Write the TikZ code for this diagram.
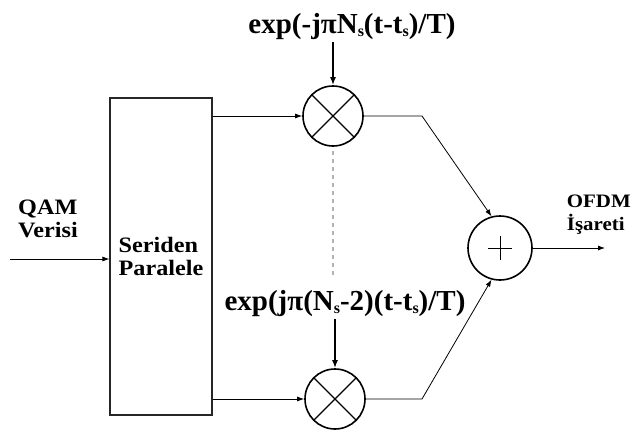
\documentclass[tikz,border=0pt]{standalone}
\usepackage{fontspec}
\setmainfont{Liberation Serif}
\newfontfamily\widefont{Liberation Serif}[FakeStretch=1.1]
\usetikzlibrary{arrows.meta,positioning}

\tikzset{
  lbl/.style={font=\widefont\fontsize{22}{23}\selectfont\bfseries, align=left, inner sep=0pt},
  explbl/.style={font=\fontsize{29}{30}\selectfont\bfseries, inner sep=0pt},
  mixer/.style={circle, draw, line width=1.6pt, minimum size=60pt, inner sep=0pt,
    path picture={\draw[line width=1.2pt]
      (path picture bounding box.north west) -- (path picture bounding box.south east)
      (path picture bounding box.north east) -- (path picture bounding box.south west);}},
  summer/.style={circle, draw, line width=1.6pt, minimum size=64pt, inner sep=0pt},
  sig/.style={-{Latex[length=7pt,width=5pt]}, line width=0.8pt},
  feed/.style={-{Latex[length=8pt,width=6pt]}, line width=2pt},
  dotline/.style={gray!60, line width=2pt, dash pattern=on 4pt off 4pt},
}

\newcommand{\lowsub}[1]{\raisebox{-0.3ex}{\fontsize{16}{16}\selectfont #1}}

\begin{document}
\begin{tikzpicture}[x=1pt,y=-1pt]
  \useasboundingbox (0,0) rectangle (635,431);
  % blocks
  \node[draw, black!85, line width=1.1pt, minimum width=102pt, minimum height=317pt,
    lbl, text=black] (spp) at (161,256.5) {Seriden\\Paralele};
  \node[mixer] (mix1) at (333,116) {};
  \node[mixer] (mix2) at (335,399) {};
  \node[summer] (sum) at (500,248) {};
  \draw[line width=0.9pt] ([xshift=-12pt]sum.center) -- ([xshift=12pt]sum.center)
    ([yshift=-12pt]sum.center) -- ([yshift=12pt]sum.center);
  % labels
  \node[explbl, anchor=base] (lab1) at (352,33) {exp(-jπN\lowsub{s}(t-t\lowsub{s})/T)};
  \node[explbl, anchor=base] (lab2) at (345,310) {exp(jπ(N\lowsub{s}-2)(t-t\lowsub{s})/T)};
  \node[lbl, anchor=base west] (qam) at (18,237) {QAM\\Verisi};
  \node[lbl, anchor=base east, font=\widefont\fontsize{19}{23}\selectfont\bfseries]
    (ofdm) at (631,230) {OFDM\\İşareti};
  % connections
  \coordinate (in) at (10,259);
  \coordinate (out) at (605,248);
  \coordinate (k1) at (422,116);
  \coordinate (k2) at (422,399);
  \draw[sig] (in) -- (in -| spp.west);
  \draw[sig] (spp.east |- mix1.west) -- (mix1.west);
  \draw[sig] (spp.east |- mix2.west) -- (mix2.west);
  \draw[feed, shorten <=3pt] (lab1.south -| mix1.north) -- (mix1.north);
  \draw[feed, shorten <=3pt] (lab2.south -| mix2.north) -- (mix2.north);
  \draw[dotline, shorten <=4pt, shorten >=14pt] (mix1.south) -- (mix1.south |- lab2.north);
  \draw[sig] (mix1.east) -- (k1) -- (sum.105);
  \draw[sig] (mix2.east) -- (k2) -- (sum.255);
  \draw[sig] (sum.east) -- (out);
\end{tikzpicture}
\end{document}
